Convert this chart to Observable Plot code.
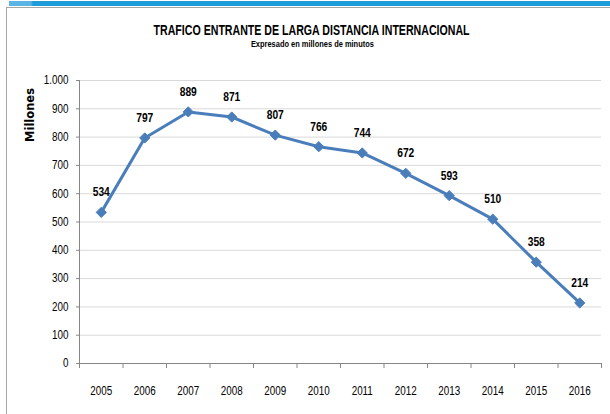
<!DOCTYPE html>
<html>
<head>
<meta charset="utf-8">
<script src="https://cdn.jsdelivr.net/npm/d3@7"></script>
<script src="https://cdn.jsdelivr.net/npm/@observablehq/plot@0.6"></script>
<style>
  html, body { margin: 0; padding: 0; background: white; }
  #wrap { position: relative; width: 610px; height: 414px; overflow: hidden; background: white; }
  #strip { position: absolute; left: 9px; top: 1px; width: 601px; height: 5px;
           background: linear-gradient(to right, #5ab4e4 0px, #5ab4e4 22px, #1c9cda 24px, #1c9cda 100%); }
  #frame { position: absolute; left: 6px; top: 7px; width: 610px; height: 420px;
           border-left: 1px solid #a6a6a6; border-top: 1px solid #a6a6a6; }
  .ttl { position: absolute; left: 0; width: 624px; text-align: center; white-space: nowrap;
         font-family: "Liberation Sans", sans-serif; font-weight: bold; color: #000; }
  .ttl span { display: inline-block; transform-origin: center; }
  #title { top: 23.8px; font-size: 14px; line-height: 12px; height: 12px; }
  #subtitle { top: 40px; font-size: 9.5px; line-height: 8px; height: 8px; }
  #ylab { position: absolute; left: 31px; top: 114.5px; transform: translate(-50%, -50%) rotate(-90deg);
          font-family: "DejaVu Sans", sans-serif; font-weight: bold; font-size: 11.5px; line-height: 1; white-space: nowrap; color: #000; }
  #chart { position: absolute; left: 0; top: 0; }
</style>
</head>
<body>
<div id="wrap">
  <div id="strip"></div>
  <div id="frame"></div>
  <div id="chart"></div>
  <div class="ttl" id="title"><span>TRAFICO ENTRANTE DE LARGA DISTANCIA INTERNACIONAL</span></div>
  <div class="ttl" id="subtitle"><span>Expresado en millones de minutos</span></div>
  <div id="ylab">Millones</div>
</div>
<script>
const years = [2005, 2006, 2007, 2008, 2009, 2010, 2011, 2012, 2013, 2014, 2015, 2016];
const values = [534, 797, 889, 871, 807, 766, 744, 672, 593, 510, 358, 214];
const yTicks = [0, 100, 200, 300, 400, 500, 600, 700, 800, 900, 1000];

const data = years.map((year, i) => ({year, value: values[i]}));
const boundaries = [...years.map(y => y - 0.5), years[years.length - 1] + 0.5];
const xDomain = [boundaries[0], boundaries[boundaries.length - 1]];

const fontSans = "'Liberation Sans', Arial, sans-serif";
const axisGrey = "#868686";
const lineBlue = "#4a7ebb";

const chart = Plot.plot({
  width: 610,
  height: 414,
  marginLeft: 79,
  marginRight: 9,
  marginTop: 80,
  marginBottom: 51,
  style: {fontFamily: fontSans, fontSize: "12px", color: "#000", background: "transparent", overflow: "visible"},
  x: {type: "linear", domain: xDomain},
  y: {type: "linear", domain: [0, 1000]},
  marks: [
    Plot.gridY(yTicks, {stroke: "#d9d9d9", strokeOpacity: 1, strokeWidth: 1}),
    Plot.ruleY([0], {stroke: axisGrey}),
    Plot.ruleX([xDomain[0]], {stroke: axisGrey}),
    Plot.axisY(yTicks, {tickSize: 3, tickPadding: 8, stroke: axisGrey, fill: "#000",
      tickFormat: d => d3.format(",")(d).replace(/,/g, "."), label: null, fontSize: 12}),
    Plot.axisX(boundaries, {tickSize: 5, stroke: axisGrey, tickFormat: () => "", label: null}),
    Plot.axisX(years, {tickSize: 0, tickPadding: 23, fill: "#000", tickFormat: d => String(d), label: null, fontSize: 12}),
    Plot.line(data, {x: "year", y: "value", stroke: lineBlue, strokeWidth: 3}),
    Plot.dot(data, {x: "year", y: "value", symbol: "diamond2", r: 4.6, fill: lineBlue, stroke: lineBlue, strokeWidth: 1}),
    Plot.text(data, {x: "year", y: "value", text: d => String(d.value), dy: -20,
      fontWeight: "bold", fontSize: 12.5, fill: "#000", fontFamily: fontSans})
  ]
});
document.getElementById("chart").appendChild(chart);

// condense chart texts to match the narrow font of the reference
chart.querySelectorAll("text").forEach(t => {
  if (!t.textContent) return;
  const len = t.getComputedTextLength();
  if (len > 0) {
    t.setAttribute("textLength", (len * 0.82).toFixed(2));
    t.setAttribute("lengthAdjust", "spacingAndGlyphs");
  }
});

function fit(id, target) {
  const span = document.querySelector("#" + id + " span");
  const w = span.getBoundingClientRect().width;
  if (w > 0) span.style.transform = "scaleX(" + (target / w) + ")";
}
fit("title", 316);
fit("subtitle", 123);
</script>
</body>
</html>
